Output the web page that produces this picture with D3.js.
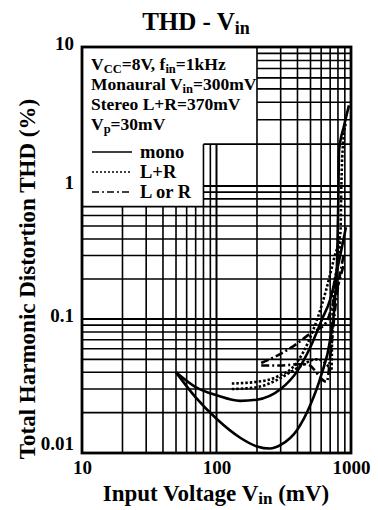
<!DOCTYPE html>
<html>
<head>
<meta charset="utf-8">
<script src="https://cdn.jsdelivr.net/npm/d3@7"></script>
<style>
  body { margin: 0; background: #fff; }
  text { font-family: "Liberation Serif", "Times New Roman", serif; font-weight: bold; fill: #000; }
</style>
</head>
<body>
<svg id="svgMain" width="378" height="510"></svg>
<script>
// ticks and grid
const xTicks = [10, 100, 1000];
const yTicks = [0.01, 0.1, 1, 10];
const xGrid = [20, 30, 40, 50, 60, 70, 80, 90, 100, 200, 300, 400, 500, 600, 700, 800, 900];
const yGrid = [0.02, 0.03, 0.04, 0.05, 0.06, 0.07, 0.08, 0.09, 0.1,
               0.2, 0.3, 0.4, 0.5, 0.6, 0.7, 0.8, 0.9, 1,
               2, 3, 4, 5, 6, 7, 8, 9];

// curves [Vin mV, THD %]
const monoA = [[50, 0.040], [70, 0.026], [100, 0.018], [150, 0.013], [200, 0.0112], [250, 0.0108],
               [300, 0.0115], [400, 0.015], [500, 0.023], [600, 0.038], [700, 0.07], [760, 0.14],
               [790, 0.3], [805, 0.8], [815, 1.8], [887, 2.7], [966, 3.8]];
const monoB = [[50, 0.040], [70, 0.031], [100, 0.027], [150, 0.0245], [200, 0.025], [300, 0.030],
               [400, 0.041], [500, 0.062], [610, 0.1], [700, 0.14], [800, 0.25], [917, 0.49]];
const lrA = [[130, 0.033], [200, 0.034], [280, 0.037], [400, 0.048], [489, 0.07], [653, 0.165],
             [751, 0.29], [835, 0.45], [848, 1.0], [860, 1.6], [914, 2.84]];
const lrB = [[130, 0.030], [200, 0.031], [280, 0.035], [400, 0.043], [550, 0.05], [660, 0.046],
             [715, 0.041], [725, 0.08], [735, 0.15], [790, 0.25], [840, 0.4]];
const lorA = [[215, 0.047], [280, 0.053], [366, 0.062], [500, 0.078], [653, 0.094], [760, 0.15], [887, 0.26]];
const lorB = [[215, 0.045], [300, 0.045], [420, 0.046], [470, 0.046], [660, 0.034], [710, 0.06],
              [770, 0.13], [880, 0.3]];

const series = [
    { name: "mono", data: monoA, dash: null },
    { name: "mono", data: monoB, dash: null },
    { name: "L+R", data: lrA, dash: "2.5,2" },
    { name: "L+R", data: lrB, dash: "2.5,2" },
    { name: "L or R", data: lorA, dash: "8,3,2,3" },
    { name: "L or R", data: lorB, dash: "8,3,2,3" }
];

const legendItems = [
    { label: "mono", dash: null },
    { label: "L+R", dash: "2,2" },
    { label: "L or R", dash: "7,3,2,3" }
];

let svgMain = d3.select("#svgMain");

const xScale = d3.scaleLog().domain([10, 1000]).range([82, 351]);
const yScale = d3.scaleLog().domain([0.01, 0.1, 1, 10]).range([453, 319, 186, 47]);

// grid, leaving the white note area in the upper left
svgMain.append("g").attr("class", "x gridlines")
    .selectAll("line").data(xGrid).enter().append("line")
    .attr("x1", d => xScale(d)).attr("x2", d => xScale(d))
    .attr("y1", yScale(0.01))
    .attr("y2", d => d < 80 ? yScale(0.7) : d < 200 ? yScale(2) : yScale(10))
    .style("stroke", "#000")
    .style("stroke-width", d => d == 100 ? 2 : 1.6);

svgMain.append("g").attr("class", "y gridlines")
    .selectAll("line").data(yGrid).enter().append("line")
    .attr("y1", d => yScale(d)).attr("y2", d => yScale(d))
    .attr("x1", d => d > 2 ? xScale(200) : d > 0.7 ? xScale(80) : xScale(10))
    .attr("x2", xScale(1000))
    .style("stroke", "#000")
    .style("stroke-width", d => (d == 0.1 || d == 1) ? 2 : 1.6);

// frame
svgMain.append("rect")
    .attr("x", xScale(10)).attr("y", yScale(10))
    .attr("width", xScale(1000) - xScale(10))
    .attr("height", yScale(0.01) - yScale(10))
    .style("fill", "none").style("stroke", "#000").style("stroke-width", 2.8);

// curves
const line = d3.line()
    .x(d => xScale(d[0]))
    .y(d => yScale(d[1]))
    .curve(d3.curveMonotoneX);

svgMain.append("g").attr("class", "curves")
    .selectAll("path").data(series).enter().append("path")
    .attr("d", d => line(d.data))
    .style("fill", "none")
    .style("stroke", "#000")
    .style("stroke-width", 2.6)
    .style("stroke-dasharray", d => d.dash);

// axes (labels only)
let yAxis = d3.axisLeft(yScale).tickValues(yTicks).tickSize(0).tickPadding(8)
    .tickFormat(d => d >= 1 ? d3.format("d")(d) : String(d));
let gy = svgMain.append("g").attr("class", "y axis")
    .attr("transform", "translate(" + xScale(10) + ",0)")
    .call(yAxis);
gy.select(".domain").remove();
gy.selectAll("text")
    .style("font-size", "19px")
    .attr("dy", d => d == 0.01 ? "-0.2em" : "0.12em");

let xAxis = d3.axisBottom(xScale).tickValues(xTicks).tickSize(0).tickPadding(8)
    .tickFormat(d3.format("d"));
let gx = svgMain.append("g").attr("class", "x axis")
    .attr("transform", "translate(0," + yScale(0.01) + ")")
    .call(xAxis);
gx.select(".domain").remove();
gx.selectAll("text").style("font-size", "19px");

// title
let title = svgMain.append("text")
    .attr("x", 196).attr("y", 30)
    .attr("text-anchor", "middle")
    .style("font-size", "25px");
title.append("tspan").text("THD - V");
title.append("tspan").attr("dy", 4).style("font-size", "18px").text("in");

// x label
let xLabel = svgMain.append("text")
    .attr("x", 216).attr("y", 501)
    .attr("text-anchor", "middle")
    .style("font-size", "23px");
xLabel.append("tspan").text("Input Voltage V");
xLabel.append("tspan").attr("dy", 3).style("font-size", "17px").text("in");
xLabel.append("tspan").attr("dy", -3).text(" (mV)");

// y label
svgMain.append("text")
    .attr("transform", "translate(35,279) rotate(-90)")
    .attr("text-anchor", "middle")
    .style("font-size", "23px")
    .text("Total Harmonic Distortion THD (%)");

// conditions note
const notes = svgMain.append("g").attr("class", "notes").style("font-size", "17.5px");
function noteLine(y, parts) {
    let t = notes.append("text").attr("x", 91).attr("y", y);
    parts.forEach(p => {
        let s = t.append("tspan").text(p[0]);
        if (p[1] == "sub") s.attr("dy", 3).style("font-size", "12.5px");
        if (p[1] == "up") s.attr("dy", -3);
    });
    return t;
}
noteLine(70, [["V"], ["CC", "sub"], ["=8V, f", "up"], ["in", "sub"], ["=1kHz", "up"]]);
noteLine(90, [["Monaural V"], ["in", "sub"], ["=300mV", "up"]]);
noteLine(110, [["Stereo L+R=370mV"]]);
noteLine(130, [["V"], ["p", "sub"], ["=30mV", "up"]]);

// legend
const legend = svgMain.append("g").attr("class", "legend");
legend.selectAll("line").data(legendItems).enter().append("line")
    .attr("x1", 92).attr("x2", 132)
    .attr("y1", (d, i) => 152 + i * 20).attr("y2", (d, i) => 152 + i * 20)
    .style("stroke", "#000").style("stroke-width", 1.5)
    .style("stroke-dasharray", d => d.dash);
legend.selectAll("text").data(legendItems).enter().append("text")
    .attr("x", 140).attr("y", (d, i) => 158 + i * 20)
    .style("font-size", "18.5px")
    .text(d => d.label);
</script>
</body>
</html>
